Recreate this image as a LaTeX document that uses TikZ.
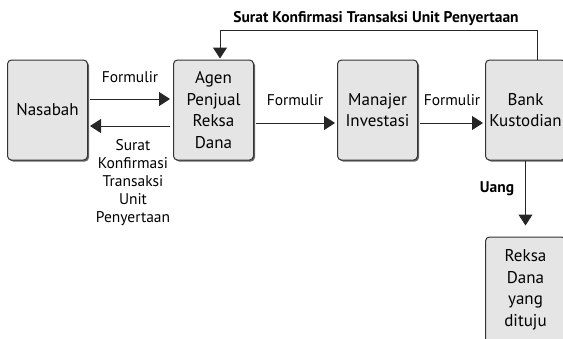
\documentclass[tikz,border=0pt]{standalone}
\usepackage{fontspec}
\setmainfont{PT Sans}
\usetikzlibrary{arrows.meta,shadows}

\tikzset{
  kotak/.style={draw=black!80, line width=1pt, rounded corners=4pt, fill=black!10,
    minimum width=80pt, minimum height=100pt, align=center,
    font=\fontsize{17}{21.5}\selectfont,
    drop shadow={shadow xshift=1.5pt, shadow yshift=-1.5pt, fill=black!60, opacity=1}},
  panah/.style={-{Triangle[width=14pt,length=11pt]}, line width=1pt, draw=black!85},
  ket/.style={align=center, font=\fontsize{15.5}{18}\selectfont},
  ketbold/.style={font=\fontsize{15.5}{18}\selectfont\bfseries},
}

\begin{document}
\begin{tikzpicture}[x=1pt,y=-1pt]
\useasboundingbox (0,0) rectangle (563,338);
\clip (0,0) rectangle (563,338);
% kotak
\node[kotak] (nasabah) at (47.5,110) {Nasabah};
\node[kotak] (agen) at (213.5,110) {Agen\\Penjual\\Reksa\\Dana};
\node[kotak] (manajer) at (377.5,110) {Manajer\\Investasi};
\node[kotak] (bank) at (525.5,110) {Bank\\Kustodian};
\node[kotak, minimum height=106pt] (reksa) at (525.5,290) {Reksa\\Dana\\yang\\dituju};
% label
\node[ket] (form1) at (130,77) {Formulir};
\node[ket] (form2) at (295,100) {Formulir};
\node[ket] (form3) at (452,100) {Formulir};
\node[ket] (surat) at (133,183) {Surat\\Konfirmasi\\Transaksi\\Unit\\Penyertaan};
\node[ketbold] (judul) at (376,19) {Surat Konfirmasi Transaksi Unit Penyertaan};
\node[ketbold] (uang) at (497,189) {Uang};
% panah
\draw[panah, shorten <=2pt, shorten >=3pt] ([yshift=11pt]nasabah.east) -- ([yshift=11pt]agen.west);
\draw[panah, shorten <=3pt, shorten >=2pt] ([yshift=-16pt]agen.west) -- ([yshift=-16pt]nasabah.east);
\draw[panah, shorten <=2pt, shorten >=2pt] ([yshift=-13pt]agen.east) -- ([yshift=-13pt]manajer.west);
\draw[panah, shorten <=2pt, shorten >=2pt] ([yshift=-13pt]manajer.east) -- ([yshift=-13pt]bank.west);
\coordinate (balik) at (537,30);
\draw[panah, shorten >=1pt] (bank.north -| balik) |- (balik) -| ([xshift=6.5pt]agen.north);
\draw[panah, shorten >=11pt] (bank.south) -- (reksa.north);
\end{tikzpicture}
\end{document}
